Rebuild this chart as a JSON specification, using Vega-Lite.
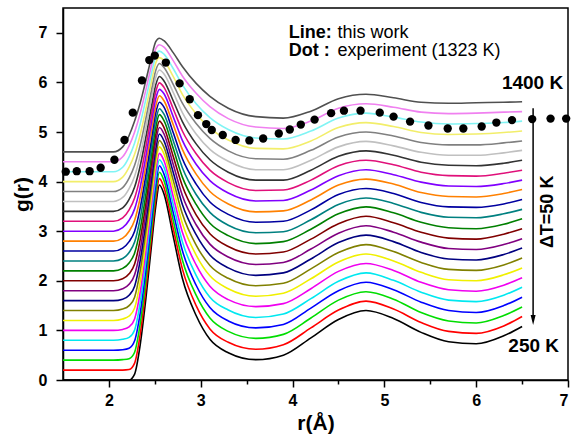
{
  "$schema": "https://vega.github.io/schema/vega-lite/v6.json",
  "width": 505,
  "height": 372,
  "autosize": "none",
  "padding": {"left": 63, "top": 8, "right": 5, "bottom": 63},
  "config": {
    "font": "Liberation Sans",
    "view": {"stroke": "#000", "strokeWidth": 1.5},
    "axis": {
      "grid": false,
      "domainColor": "#000", "domainWidth": 1.5,
      "tickColor": "#000", "tickWidth": 1.5,
      "labelFont": "Liberation Sans", "labelFontWeight": "bold", "labelFontSize": 16, "labelColor": "#000",
      "titleFont": "Liberation Sans", "titleFontWeight": "bold", "titleFontSize": 21, "titleColor": "#000"
    }
  },
  "datasets": {
    "sim": [
      {"T":250,"r":1.5,"g":0},{"T":250,"r":2.05,"g":0},{"T":250,"r":2.15,"g":0},{"T":250,"r":2.22,"g":0},{"T":250,"r":2.28,"g":0.12},{"T":250,"r":2.34,"g":0.70},{"T":250,"r":2.4,"g":1.60},{"T":250,"r":2.46,"g":2.65},{"T":250,"r":2.51,"g":3.50},{"T":250,"r":2.55,"g":3.93},{"T":250,"r":2.6,"g":3.75},{"T":250,"r":2.7,"g":2.90},{"T":250,"r":2.8,"g":2.05},{"T":250,"r":2.95,"g":1.30},{"T":250,"r":3.1,"g":0.82},{"T":250,"r":3.3,"g":0.55},{"T":250,"r":3.6,"g":0.41},{"T":250,"r":3.9,"g":0.50},{"T":250,"r":4.2,"g":0.85},{"T":250,"r":4.5,"g":1.22},{"T":250,"r":4.8,"g":1.40},{"T":250,"r":5.1,"g":1.24},{"T":250,"r":5.4,"g":0.96},{"T":250,"r":5.7,"g":0.77},{"T":250,"r":6.0,"g":0.73},{"T":250,"r":6.3,"g":0.89},{"T":250,"r":6.5,"g":1.08},
      {"T":300,"r":1.5,"g":0.2},{"T":300,"r":2.05,"g":0.2},{"T":300,"r":2.15,"g":0.20},{"T":300,"r":2.22,"g":0.21},{"T":300,"r":2.28,"g":0.34},{"T":300,"r":2.34,"g":0.91},{"T":300,"r":2.4,"g":1.79},{"T":300,"r":2.46,"g":2.82},{"T":300,"r":2.51,"g":3.64},{"T":300,"r":2.55,"g":4.06},{"T":300,"r":2.6,"g":3.88},{"T":300,"r":2.7,"g":3.06},{"T":300,"r":2.8,"g":2.24},{"T":300,"r":2.95,"g":1.50},{"T":300,"r":3.1,"g":1.03},{"T":300,"r":3.3,"g":0.76},{"T":300,"r":3.6,"g":0.62},{"T":300,"r":3.9,"g":0.71},{"T":300,"r":4.2,"g":1.05},{"T":300,"r":4.5,"g":1.41},{"T":300,"r":4.8,"g":1.59},{"T":300,"r":5.1,"g":1.43},{"T":300,"r":5.4,"g":1.16},{"T":300,"r":5.7,"g":0.98},{"T":300,"r":6.0,"g":0.94},{"T":300,"r":6.3,"g":1.09},{"T":300,"r":6.5,"g":1.28},
      {"T":350,"r":1.5,"g":0.4},{"T":350,"r":2.05,"g":0.4},{"T":350,"r":2.15,"g":0.41},{"T":350,"r":2.22,"g":0.43},{"T":350,"r":2.28,"g":0.56},{"T":350,"r":2.34,"g":1.12},{"T":350,"r":2.4,"g":1.98},{"T":350,"r":2.46,"g":2.98},{"T":350,"r":2.51,"g":3.79},{"T":350,"r":2.55,"g":4.19},{"T":350,"r":2.6,"g":4.02},{"T":350,"r":2.7,"g":3.22},{"T":350,"r":2.8,"g":2.42},{"T":350,"r":2.95,"g":1.71},{"T":350,"r":3.1,"g":1.25},{"T":350,"r":3.3,"g":0.98},{"T":350,"r":3.6,"g":0.84},{"T":350,"r":3.9,"g":0.92},{"T":350,"r":4.2,"g":1.25},{"T":350,"r":4.5,"g":1.61},{"T":350,"r":4.8,"g":1.78},{"T":350,"r":5.1,"g":1.63},{"T":350,"r":5.4,"g":1.36},{"T":350,"r":5.7,"g":1.19},{"T":350,"r":6.0,"g":1.15},{"T":350,"r":6.3,"g":1.30},{"T":350,"r":6.5,"g":1.47},
      {"T":400,"r":1.5,"g":0.6},{"T":400,"r":2.05,"g":0.6},{"T":400,"r":2.15,"g":0.61},{"T":400,"r":2.22,"g":0.64},{"T":400,"r":2.28,"g":0.79},{"T":400,"r":2.34,"g":1.34},{"T":400,"r":2.4,"g":2.18},{"T":400,"r":2.46,"g":3.15},{"T":400,"r":2.51,"g":3.93},{"T":400,"r":2.55,"g":4.32},{"T":400,"r":2.6,"g":4.15},{"T":400,"r":2.7,"g":3.38},{"T":400,"r":2.8,"g":2.61},{"T":400,"r":2.95,"g":1.91},{"T":400,"r":3.1,"g":1.46},{"T":400,"r":3.3,"g":1.19},{"T":400,"r":3.6,"g":1.05},{"T":400,"r":3.9,"g":1.12},{"T":400,"r":4.2,"g":1.45},{"T":400,"r":4.5,"g":1.80},{"T":400,"r":4.8,"g":1.97},{"T":400,"r":5.1,"g":1.82},{"T":400,"r":5.4,"g":1.57},{"T":400,"r":5.7,"g":1.40},{"T":400,"r":6.0,"g":1.36},{"T":400,"r":6.3,"g":1.50},{"T":400,"r":6.5,"g":1.67},
      {"T":450,"r":1.5,"g":0.8},{"T":450,"r":2.05,"g":0.8},{"T":450,"r":2.15,"g":0.82},{"T":450,"r":2.22,"g":0.86},{"T":450,"r":2.28,"g":1.01},{"T":450,"r":2.34,"g":1.55},{"T":450,"r":2.4,"g":2.37},{"T":450,"r":2.46,"g":3.32},{"T":450,"r":2.51,"g":4.08},{"T":450,"r":2.55,"g":4.44},{"T":450,"r":2.6,"g":4.29},{"T":450,"r":2.7,"g":3.54},{"T":450,"r":2.8,"g":2.79},{"T":450,"r":2.95,"g":2.11},{"T":450,"r":3.1,"g":1.67},{"T":450,"r":3.3,"g":1.41},{"T":450,"r":3.6,"g":1.26},{"T":450,"r":3.9,"g":1.33},{"T":450,"r":4.2,"g":1.64},{"T":450,"r":4.5,"g":1.99},{"T":450,"r":4.8,"g":2.16},{"T":450,"r":5.1,"g":2.01},{"T":450,"r":5.4,"g":1.77},{"T":450,"r":5.7,"g":1.61},{"T":450,"r":6.0,"g":1.58},{"T":450,"r":6.3,"g":1.71},{"T":450,"r":6.5,"g":1.87},
      {"T":500,"r":1.5,"g":1.0},{"T":500,"r":2.05,"g":1.0},{"T":500,"r":2.15,"g":1.02},{"T":500,"r":2.22,"g":1.07},{"T":500,"r":2.28,"g":1.23},{"T":500,"r":2.34,"g":1.76},{"T":500,"r":2.4,"g":2.56},{"T":500,"r":2.46,"g":3.48},{"T":500,"r":2.51,"g":4.22},{"T":500,"r":2.55,"g":4.57},{"T":500,"r":2.6,"g":4.42},{"T":500,"r":2.7,"g":3.70},{"T":500,"r":2.8,"g":2.98},{"T":500,"r":2.95,"g":2.32},{"T":500,"r":3.1,"g":1.89},{"T":500,"r":3.3,"g":1.62},{"T":500,"r":3.6,"g":1.48},{"T":500,"r":3.9,"g":1.54},{"T":500,"r":4.2,"g":1.84},{"T":500,"r":4.5,"g":2.19},{"T":500,"r":4.8,"g":2.35},{"T":500,"r":5.1,"g":2.21},{"T":500,"r":5.4,"g":1.97},{"T":500,"r":5.7,"g":1.82},{"T":500,"r":6.0,"g":1.79},{"T":500,"r":6.3,"g":1.91},{"T":500,"r":6.5,"g":2.06},
      {"T":550,"r":1.5,"g":1.2},{"T":550,"r":2.05,"g":1.2},{"T":550,"r":2.15,"g":1.23},{"T":550,"r":2.22,"g":1.29},{"T":550,"r":2.28,"g":1.45},{"T":550,"r":2.34,"g":1.97},{"T":550,"r":2.4,"g":2.75},{"T":550,"r":2.46,"g":3.65},{"T":550,"r":2.51,"g":4.37},{"T":550,"r":2.55,"g":4.70},{"T":550,"r":2.6,"g":4.56},{"T":550,"r":2.7,"g":3.87},{"T":550,"r":2.8,"g":3.16},{"T":550,"r":2.95,"g":2.52},{"T":550,"r":3.1,"g":2.10},{"T":550,"r":3.3,"g":1.84},{"T":550,"r":3.6,"g":1.69},{"T":550,"r":3.9,"g":1.75},{"T":550,"r":4.2,"g":2.04},{"T":550,"r":4.5,"g":2.38},{"T":550,"r":4.8,"g":2.54},{"T":550,"r":5.1,"g":2.40},{"T":550,"r":5.4,"g":2.17},{"T":550,"r":5.7,"g":2.02},{"T":550,"r":6.0,"g":2.00},{"T":550,"r":6.3,"g":2.12},{"T":550,"r":6.5,"g":2.26},
      {"T":600,"r":1.5,"g":1.4},{"T":600,"r":2.05,"g":1.4},{"T":600,"r":2.15,"g":1.43},{"T":600,"r":2.22,"g":1.50},{"T":600,"r":2.28,"g":1.67},{"T":600,"r":2.34,"g":2.19},{"T":600,"r":2.4,"g":2.95},{"T":600,"r":2.46,"g":3.82},{"T":600,"r":2.51,"g":4.51},{"T":600,"r":2.55,"g":4.83},{"T":600,"r":2.6,"g":4.69},{"T":600,"r":2.7,"g":4.03},{"T":600,"r":2.8,"g":3.35},{"T":600,"r":2.95,"g":2.72},{"T":600,"r":3.1,"g":2.31},{"T":600,"r":3.3,"g":2.05},{"T":600,"r":3.6,"g":1.90},{"T":600,"r":3.9,"g":1.95},{"T":600,"r":4.2,"g":2.24},{"T":600,"r":4.5,"g":2.57},{"T":600,"r":4.8,"g":2.73},{"T":600,"r":5.1,"g":2.59},{"T":600,"r":5.4,"g":2.37},{"T":600,"r":5.7,"g":2.23},{"T":600,"r":6.0,"g":2.21},{"T":600,"r":6.3,"g":2.32},{"T":600,"r":6.5,"g":2.46},
      {"T":650,"r":1.5,"g":1.6},{"T":650,"r":2.05,"g":1.6},{"T":650,"r":2.15,"g":1.63},{"T":650,"r":2.22,"g":1.71},{"T":650,"r":2.28,"g":1.89},{"T":650,"r":2.34,"g":2.40},{"T":650,"r":2.4,"g":3.14},{"T":650,"r":2.46,"g":3.98},{"T":650,"r":2.51,"g":4.65},{"T":650,"r":2.55,"g":4.96},{"T":650,"r":2.6,"g":4.82},{"T":650,"r":2.7,"g":4.19},{"T":650,"r":2.8,"g":3.54},{"T":650,"r":2.95,"g":2.93},{"T":650,"r":3.1,"g":2.52},{"T":650,"r":3.3,"g":2.26},{"T":650,"r":3.6,"g":2.11},{"T":650,"r":3.9,"g":2.16},{"T":650,"r":4.2,"g":2.44},{"T":650,"r":4.5,"g":2.77},{"T":650,"r":4.8,"g":2.92},{"T":650,"r":5.1,"g":2.79},{"T":650,"r":5.4,"g":2.57},{"T":650,"r":5.7,"g":2.44},{"T":650,"r":6.0,"g":2.42},{"T":650,"r":6.3,"g":2.53},{"T":650,"r":6.5,"g":2.66},
      {"T":700,"r":1.5,"g":1.8},{"T":700,"r":2.05,"g":1.8},{"T":700,"r":2.15,"g":1.84},{"T":700,"r":2.22,"g":1.93},{"T":700,"r":2.28,"g":2.12},{"T":700,"r":2.34,"g":2.61},{"T":700,"r":2.4,"g":3.33},{"T":700,"r":2.46,"g":4.15},{"T":700,"r":2.51,"g":4.80},{"T":700,"r":2.55,"g":5.09},{"T":700,"r":2.6,"g":4.96},{"T":700,"r":2.7,"g":4.35},{"T":700,"r":2.8,"g":3.72},{"T":700,"r":2.95,"g":3.13},{"T":700,"r":3.1,"g":2.74},{"T":700,"r":3.3,"g":2.48},{"T":700,"r":3.6,"g":2.33},{"T":700,"r":3.9,"g":2.37},{"T":700,"r":4.2,"g":2.64},{"T":700,"r":4.5,"g":2.96},{"T":700,"r":4.8,"g":3.11},{"T":700,"r":5.1,"g":2.98},{"T":700,"r":5.4,"g":2.78},{"T":700,"r":5.7,"g":2.65},{"T":700,"r":6.0,"g":2.63},{"T":700,"r":6.3,"g":2.73},{"T":700,"r":6.5,"g":2.85},
      {"T":750,"r":1.5,"g":2.0},{"T":750,"r":2.05,"g":2.0},{"T":750,"r":2.15,"g":2.04},{"T":750,"r":2.22,"g":2.14},{"T":750,"r":2.28,"g":2.34},{"T":750,"r":2.34,"g":2.82},{"T":750,"r":2.4,"g":3.52},{"T":750,"r":2.46,"g":4.32},{"T":750,"r":2.51,"g":4.94},{"T":750,"r":2.55,"g":5.22},{"T":750,"r":2.6,"g":5.09},{"T":750,"r":2.7,"g":4.51},{"T":750,"r":2.8,"g":3.91},{"T":750,"r":2.95,"g":3.33},{"T":750,"r":3.1,"g":2.95},{"T":750,"r":3.3,"g":2.69},{"T":750,"r":3.6,"g":2.54},{"T":750,"r":3.9,"g":2.58},{"T":750,"r":4.2,"g":2.84},{"T":750,"r":4.5,"g":3.15},{"T":750,"r":4.8,"g":3.30},{"T":750,"r":5.1,"g":3.17},{"T":750,"r":5.4,"g":2.98},{"T":750,"r":5.7,"g":2.86},{"T":750,"r":6.0,"g":2.84},{"T":750,"r":6.3,"g":2.94},{"T":750,"r":6.5,"g":3.05},
      {"T":800,"r":1.5,"g":2.2},{"T":800,"r":2.05,"g":2.2},{"T":800,"r":2.15,"g":2.25},{"T":800,"r":2.22,"g":2.36},{"T":800,"r":2.28,"g":2.56},{"T":800,"r":2.34,"g":3.03},{"T":800,"r":2.4,"g":3.71},{"T":800,"r":2.46,"g":4.48},{"T":800,"r":2.51,"g":5.09},{"T":800,"r":2.55,"g":5.35},{"T":800,"r":2.6,"g":5.23},{"T":800,"r":2.7,"g":4.67},{"T":800,"r":2.8,"g":4.09},{"T":800,"r":2.95,"g":3.54},{"T":800,"r":3.1,"g":3.16},{"T":800,"r":3.3,"g":2.91},{"T":800,"r":3.6,"g":2.75},{"T":800,"r":3.9,"g":2.79},{"T":800,"r":4.2,"g":3.04},{"T":800,"r":4.5,"g":3.35},{"T":800,"r":4.8,"g":3.49},{"T":800,"r":5.1,"g":3.37},{"T":800,"r":5.4,"g":3.18},{"T":800,"r":5.7,"g":3.07},{"T":800,"r":6.0,"g":3.05},{"T":800,"r":6.3,"g":3.14},{"T":800,"r":6.5,"g":3.25},
      {"T":850,"r":1.5,"g":2.4},{"T":850,"r":2.05,"g":2.4},{"T":850,"r":2.15,"g":2.45},{"T":850,"r":2.22,"g":2.57},{"T":850,"r":2.28,"g":2.78},{"T":850,"r":2.34,"g":3.25},{"T":850,"r":2.4,"g":3.91},{"T":850,"r":2.46,"g":4.65},{"T":850,"r":2.51,"g":5.23},{"T":850,"r":2.55,"g":5.47},{"T":850,"r":2.6,"g":5.36},{"T":850,"r":2.7,"g":4.83},{"T":850,"r":2.8,"g":4.28},{"T":850,"r":2.95,"g":3.74},{"T":850,"r":3.1,"g":3.38},{"T":850,"r":3.3,"g":3.12},{"T":850,"r":3.6,"g":2.97},{"T":850,"r":3.9,"g":2.99},{"T":850,"r":4.2,"g":3.23},{"T":850,"r":4.5,"g":3.54},{"T":850,"r":4.8,"g":3.67},{"T":850,"r":5.1,"g":3.56},{"T":850,"r":5.4,"g":3.38},{"T":850,"r":5.7,"g":3.28},{"T":850,"r":6.0,"g":3.27},{"T":850,"r":6.3,"g":3.35},{"T":850,"r":6.5,"g":3.44},
      {"T":900,"r":1.5,"g":2.6},{"T":900,"r":2.05,"g":2.6},{"T":900,"r":2.15,"g":2.66},{"T":900,"r":2.22,"g":2.79},{"T":900,"r":2.28,"g":3.00},{"T":900,"r":2.34,"g":3.46},{"T":900,"r":2.4,"g":4.10},{"T":900,"r":2.46,"g":4.81},{"T":900,"r":2.51,"g":5.38},{"T":900,"r":2.55,"g":5.60},{"T":900,"r":2.6,"g":5.50},{"T":900,"r":2.7,"g":4.99},{"T":900,"r":2.8,"g":4.46},{"T":900,"r":2.95,"g":3.95},{"T":900,"r":3.1,"g":3.59},{"T":900,"r":3.3,"g":3.34},{"T":900,"r":3.6,"g":3.18},{"T":900,"r":3.9,"g":3.20},{"T":900,"r":4.2,"g":3.43},{"T":900,"r":4.5,"g":3.74},{"T":900,"r":4.8,"g":3.86},{"T":900,"r":5.1,"g":3.76},{"T":900,"r":5.4,"g":3.58},{"T":900,"r":5.7,"g":3.49},{"T":900,"r":6.0,"g":3.48},{"T":900,"r":6.3,"g":3.55},{"T":900,"r":6.5,"g":3.64},
      {"T":950,"r":1.5,"g":2.8},{"T":950,"r":2.05,"g":2.8},{"T":950,"r":2.15,"g":2.86},{"T":950,"r":2.22,"g":3.00},{"T":950,"r":2.28,"g":3.22},{"T":950,"r":2.34,"g":3.67},{"T":950,"r":2.4,"g":4.29},{"T":950,"r":2.46,"g":4.98},{"T":950,"r":2.51,"g":5.52},{"T":950,"r":2.55,"g":5.73},{"T":950,"r":2.6,"g":5.63},{"T":950,"r":2.7,"g":5.15},{"T":950,"r":2.8,"g":4.65},{"T":950,"r":2.95,"g":4.15},{"T":950,"r":3.1,"g":3.80},{"T":950,"r":3.3,"g":3.55},{"T":950,"r":3.6,"g":3.39},{"T":950,"r":3.9,"g":3.41},{"T":950,"r":4.2,"g":3.63},{"T":950,"r":4.5,"g":3.93},{"T":950,"r":4.8,"g":4.05},{"T":950,"r":5.1,"g":3.95},{"T":950,"r":5.4,"g":3.78},{"T":950,"r":5.7,"g":3.70},{"T":950,"r":6.0,"g":3.69},{"T":950,"r":6.3,"g":3.76},{"T":950,"r":6.5,"g":3.84},
      {"T":1000,"r":1.5,"g":3.0},{"T":1000,"r":2.05,"g":3.0},{"T":1000,"r":2.15,"g":3.07},{"T":1000,"r":2.22,"g":3.22},{"T":1000,"r":2.28,"g":3.45},{"T":1000,"r":2.34,"g":3.88},{"T":1000,"r":2.4,"g":4.48},{"T":1000,"r":2.46,"g":5.15},{"T":1000,"r":2.51,"g":5.67},{"T":1000,"r":2.55,"g":5.86},{"T":1000,"r":2.6,"g":5.77},{"T":1000,"r":2.7,"g":5.31},{"T":1000,"r":2.8,"g":4.83},{"T":1000,"r":2.95,"g":4.35},{"T":1000,"r":3.1,"g":4.02},{"T":1000,"r":3.3,"g":3.77},{"T":1000,"r":3.6,"g":3.61},{"T":1000,"r":3.9,"g":3.62},{"T":1000,"r":4.2,"g":3.83},{"T":1000,"r":4.5,"g":4.12},{"T":1000,"r":4.8,"g":4.24},{"T":1000,"r":5.1,"g":4.14},{"T":1000,"r":5.4,"g":3.99},{"T":1000,"r":5.7,"g":3.91},{"T":1000,"r":6.0,"g":3.90},{"T":1000,"r":6.3,"g":3.96},{"T":1000,"r":6.5,"g":4.03},
      {"T":1050,"r":1.5,"g":3.2},{"T":1050,"r":2.05,"g":3.2},{"T":1050,"r":2.15,"g":3.27},{"T":1050,"r":2.22,"g":3.43},{"T":1050,"r":2.28,"g":3.67},{"T":1050,"r":2.34,"g":4.09},{"T":1050,"r":2.4,"g":4.67},{"T":1050,"r":2.46,"g":5.31},{"T":1050,"r":2.51,"g":5.81},{"T":1050,"r":2.55,"g":5.99},{"T":1050,"r":2.6,"g":5.90},{"T":1050,"r":2.7,"g":5.47},{"T":1050,"r":2.8,"g":5.02},{"T":1050,"r":2.95,"g":4.56},{"T":1050,"r":3.1,"g":4.23},{"T":1050,"r":3.3,"g":3.98},{"T":1050,"r":3.6,"g":3.82},{"T":1050,"r":3.9,"g":3.83},{"T":1050,"r":4.2,"g":4.03},{"T":1050,"r":4.5,"g":4.32},{"T":1050,"r":4.8,"g":4.43},{"T":1050,"r":5.1,"g":4.34},{"T":1050,"r":5.4,"g":4.19},{"T":1050,"r":5.7,"g":4.12},{"T":1050,"r":6.0,"g":4.11},{"T":1050,"r":6.3,"g":4.17},{"T":1050,"r":6.5,"g":4.23},
      {"T":1100,"r":1.5,"g":3.4},{"T":1100,"r":2.05,"g":3.4},{"T":1100,"r":2.15,"g":3.47},{"T":1100,"r":2.22,"g":3.64},{"T":1100,"r":2.28,"g":3.89},{"T":1100,"r":2.34,"g":4.31},{"T":1100,"r":2.4,"g":4.87},{"T":1100,"r":2.46,"g":5.48},{"T":1100,"r":2.51,"g":5.95},{"T":1100,"r":2.55,"g":6.12},{"T":1100,"r":2.6,"g":6.03},{"T":1100,"r":2.7,"g":5.63},{"T":1100,"r":2.8,"g":5.21},{"T":1100,"r":2.95,"g":4.76},{"T":1100,"r":3.1,"g":4.44},{"T":1100,"r":3.3,"g":4.19},{"T":1100,"r":3.6,"g":4.03},{"T":1100,"r":3.9,"g":4.03},{"T":1100,"r":4.2,"g":4.23},{"T":1100,"r":4.5,"g":4.51},{"T":1100,"r":4.8,"g":4.62},{"T":1100,"r":5.1,"g":4.53},{"T":1100,"r":5.4,"g":4.39},{"T":1100,"r":5.7,"g":4.33},{"T":1100,"r":6.0,"g":4.32},{"T":1100,"r":6.3,"g":4.37},{"T":1100,"r":6.5,"g":4.43},
      {"T":1150,"r":1.5,"g":3.6},{"T":1150,"r":2.05,"g":3.6},{"T":1150,"r":2.15,"g":3.68},{"T":1150,"r":2.22,"g":3.86},{"T":1150,"r":2.28,"g":4.11},{"T":1150,"r":2.34,"g":4.52},{"T":1150,"r":2.4,"g":5.06},{"T":1150,"r":2.46,"g":5.65},{"T":1150,"r":2.51,"g":6.10},{"T":1150,"r":2.55,"g":6.25},{"T":1150,"r":2.6,"g":6.17},{"T":1150,"r":2.7,"g":5.80},{"T":1150,"r":2.8,"g":5.39},{"T":1150,"r":2.95,"g":4.96},{"T":1150,"r":3.1,"g":4.65},{"T":1150,"r":3.3,"g":4.41},{"T":1150,"r":3.6,"g":4.24},{"T":1150,"r":3.9,"g":4.24},{"T":1150,"r":4.2,"g":4.43},{"T":1150,"r":4.5,"g":4.70},{"T":1150,"r":4.8,"g":4.81},{"T":1150,"r":5.1,"g":4.72},{"T":1150,"r":5.4,"g":4.59},{"T":1150,"r":5.7,"g":4.53},{"T":1150,"r":6.0,"g":4.53},{"T":1150,"r":6.3,"g":4.58},{"T":1150,"r":6.5,"g":4.63},
      {"T":1200,"r":1.5,"g":3.8},{"T":1200,"r":2.05,"g":3.8},{"T":1200,"r":2.15,"g":3.88},{"T":1200,"r":2.22,"g":4.07},{"T":1200,"r":2.28,"g":4.33},{"T":1200,"r":2.34,"g":4.73},{"T":1200,"r":2.4,"g":5.25},{"T":1200,"r":2.46,"g":5.81},{"T":1200,"r":2.51,"g":6.24},{"T":1200,"r":2.55,"g":6.38},{"T":1200,"r":2.6,"g":6.30},{"T":1200,"r":2.7,"g":5.96},{"T":1200,"r":2.8,"g":5.58},{"T":1200,"r":2.95,"g":5.17},{"T":1200,"r":3.1,"g":4.87},{"T":1200,"r":3.3,"g":4.62},{"T":1200,"r":3.6,"g":4.46},{"T":1200,"r":3.9,"g":4.45},{"T":1200,"r":4.2,"g":4.63},{"T":1200,"r":4.5,"g":4.90},{"T":1200,"r":4.8,"g":5.00},{"T":1200,"r":5.1,"g":4.92},{"T":1200,"r":5.4,"g":4.79},{"T":1200,"r":5.7,"g":4.74},{"T":1200,"r":6.0,"g":4.74},{"T":1200,"r":6.3,"g":4.78},{"T":1200,"r":6.5,"g":4.82},
      {"T":1250,"r":1.5,"g":4.0},{"T":1250,"r":2.05,"g":4.0},{"T":1250,"r":2.15,"g":4.09},{"T":1250,"r":2.22,"g":4.29},{"T":1250,"r":2.28,"g":4.55},{"T":1250,"r":2.34,"g":4.94},{"T":1250,"r":2.4,"g":5.44},{"T":1250,"r":2.46,"g":5.98},{"T":1250,"r":2.51,"g":6.39},{"T":1250,"r":2.55,"g":6.50},{"T":1250,"r":2.6,"g":6.44},{"T":1250,"r":2.7,"g":6.12},{"T":1250,"r":2.8,"g":5.76},{"T":1250,"r":2.95,"g":5.37},{"T":1250,"r":3.1,"g":5.08},{"T":1250,"r":3.3,"g":4.84},{"T":1250,"r":3.6,"g":4.67},{"T":1250,"r":3.9,"g":4.66},{"T":1250,"r":4.2,"g":4.82},{"T":1250,"r":4.5,"g":5.09},{"T":1250,"r":4.8,"g":5.19},{"T":1250,"r":5.1,"g":5.11},{"T":1250,"r":5.4,"g":4.99},{"T":1250,"r":5.7,"g":4.95},{"T":1250,"r":6.0,"g":4.96},{"T":1250,"r":6.3,"g":4.99},{"T":1250,"r":6.5,"g":5.02},
      {"T":1300,"r":1.5,"g":4.2},{"T":1300,"r":2.05,"g":4.2},{"T":1300,"r":2.15,"g":4.29},{"T":1300,"r":2.22,"g":4.50},{"T":1300,"r":2.28,"g":4.78},{"T":1300,"r":2.34,"g":5.16},{"T":1300,"r":2.4,"g":5.64},{"T":1300,"r":2.46,"g":6.15},{"T":1300,"r":2.51,"g":6.53},{"T":1300,"r":2.55,"g":6.63},{"T":1300,"r":2.6,"g":6.57},{"T":1300,"r":2.7,"g":6.28},{"T":1300,"r":2.8,"g":5.95},{"T":1300,"r":2.95,"g":5.57},{"T":1300,"r":3.1,"g":5.29},{"T":1300,"r":3.3,"g":5.05},{"T":1300,"r":3.6,"g":4.88},{"T":1300,"r":3.9,"g":4.86},{"T":1300,"r":4.2,"g":5.02},{"T":1300,"r":4.5,"g":5.28},{"T":1300,"r":4.8,"g":5.38},{"T":1300,"r":5.1,"g":5.30},{"T":1300,"r":5.4,"g":5.20},{"T":1300,"r":5.7,"g":5.16},{"T":1300,"r":6.0,"g":5.17},{"T":1300,"r":6.3,"g":5.19},{"T":1300,"r":6.5,"g":5.22},
      {"T":1350,"r":1.5,"g":4.4},{"T":1350,"r":2.05,"g":4.4},{"T":1350,"r":2.15,"g":4.50},{"T":1350,"r":2.22,"g":4.72},{"T":1350,"r":2.28,"g":5.00},{"T":1350,"r":2.34,"g":5.37},{"T":1350,"r":2.4,"g":5.83},{"T":1350,"r":2.46,"g":6.31},{"T":1350,"r":2.51,"g":6.68},{"T":1350,"r":2.55,"g":6.76},{"T":1350,"r":2.6,"g":6.71},{"T":1350,"r":2.7,"g":6.44},{"T":1350,"r":2.8,"g":6.13},{"T":1350,"r":2.95,"g":5.78},{"T":1350,"r":3.1,"g":5.51},{"T":1350,"r":3.3,"g":5.27},{"T":1350,"r":3.6,"g":5.10},{"T":1350,"r":3.9,"g":5.07},{"T":1350,"r":4.2,"g":5.22},{"T":1350,"r":4.5,"g":5.48},{"T":1350,"r":4.8,"g":5.57},{"T":1350,"r":5.1,"g":5.50},{"T":1350,"r":5.4,"g":5.40},{"T":1350,"r":5.7,"g":5.37},{"T":1350,"r":6.0,"g":5.38},{"T":1350,"r":6.3,"g":5.40},{"T":1350,"r":6.5,"g":5.41},
      {"T":1400,"r":1.5,"g":4.6},{"T":1400,"r":2.05,"g":4.6},{"T":1400,"r":2.15,"g":4.70},{"T":1400,"r":2.22,"g":4.93},{"T":1400,"r":2.28,"g":5.22},{"T":1400,"r":2.34,"g":5.58},{"T":1400,"r":2.4,"g":6.02},{"T":1400,"r":2.46,"g":6.48},{"T":1400,"r":2.51,"g":6.82},{"T":1400,"r":2.55,"g":6.89},{"T":1400,"r":2.6,"g":6.84},{"T":1400,"r":2.7,"g":6.60},{"T":1400,"r":2.8,"g":6.32},{"T":1400,"r":2.95,"g":5.98},{"T":1400,"r":3.1,"g":5.72},{"T":1400,"r":3.3,"g":5.48},{"T":1400,"r":3.6,"g":5.31},{"T":1400,"r":3.9,"g":5.28},{"T":1400,"r":4.2,"g":5.42},{"T":1400,"r":4.5,"g":5.67},{"T":1400,"r":4.8,"g":5.76},{"T":1400,"r":5.1,"g":5.69},{"T":1400,"r":5.4,"g":5.60},{"T":1400,"r":5.7,"g":5.58},{"T":1400,"r":6.0,"g":5.59},{"T":1400,"r":6.3,"g":5.60},{"T":1400,"r":6.5,"g":5.61}
    ],
    "exp": [
      {"r":1.53,"g":4.20},{"r":1.65,"g":4.21},{"r":1.79,"g":4.21},{"r":1.91,"g":4.28},{"r":2.06,"g":4.44},{"r":2.17,"g":4.84},{"r":2.26,"g":5.39},{"r":2.36,"g":6.04},{"r":2.44,"g":6.45},{"r":2.50,"g":6.54},{"r":2.62,"g":6.40},{"r":2.77,"g":5.98},{"r":2.88,"g":5.66},{"r":2.97,"g":5.34},{"r":3.06,"g":5.16},{"r":3.12,"g":5.04},{"r":3.24,"g":4.94},{"r":3.38,"g":4.84},{"r":3.53,"g":4.83},{"r":3.68,"g":4.87},{"r":3.85,"g":4.97},{"r":3.97,"g":5.05},{"r":4.09,"g":5.15},{"r":4.24,"g":5.25},{"r":4.42,"g":5.38},{"r":4.56,"g":5.43},{"r":4.74,"g":5.43},{"r":4.95,"g":5.39},{"r":5.10,"g":5.31},{"r":5.28,"g":5.21},{"r":5.48,"g":5.13},{"r":5.69,"g":5.07},{"r":5.86,"g":5.07},{"r":6.06,"g":5.11},{"r":6.22,"g":5.19},{"r":6.39,"g":5.24},{"r":6.61,"g":5.26},{"r":6.81,"g":5.27},{"r":6.98,"g":5.27}
    ]
  },
  "layer": [
    {
      "data": {"name": "sim"},
      "mark": {"type": "line", "interpolate": "monotone", "strokeWidth": 1.6},
      "encoding": {
        "x": {
          "field": "r", "type": "quantitative",
          "scale": {"domain": [1.5, 7], "nice": false, "zero": false},
          "axis": {
            "title": "r(Å)",
            "values": [2, 2.5, 3, 3.5, 4, 4.5, 5, 5.5, 6, 6.5, 7],
            "labelExpr": "datum.value % 1 !== 0 ? '' : format(datum.value, 'd')",
            "tickSize": {"condition": {"test": "datum.value % 1 !== 0", "value": 4}, "value": 7},
            "labelPadding": 5,
            "titlePadding": 4
          }
        },
        "y": {
          "field": "g", "type": "quantitative",
          "scale": {"domain": [0, 7.5], "nice": false},
          "axis": {
            "title": "g(r)",
            "values": [0, 0.5, 1, 1.5, 2, 2.5, 3, 3.5, 4, 4.5, 5, 5.5, 6, 6.5, 7],
            "labelExpr": "datum.value % 1 !== 0 ? '' : format(datum.value, 'd')",
            "tickSize": {"condition": {"test": "datum.value % 1 !== 0", "value": 4}, "value": 7},
            "labelPadding": 9,
            "titlePadding": 6
          }
        },
        "color": {
          "field": "T", "type": "ordinal", "legend": null,
          "scale": {
            "domain": [250, 300, 350, 400, 450, 500, 550, 600, 650, 700, 750, 800, 850, 900, 950, 1000, 1050, 1100, 1150, 1200, 1250, 1300, 1350, 1400],
            "range": ["#000000", "#FF0000", "#00DD00", "#0000FF", "#00E8F0", "#F000F0", "#F0F000", "#808000", "#000080", "#800080", "#800000", "#008000", "#008080", "#0000A0", "#FF8000", "#8000FF", "#E0107A", "#333333", "#C0C0C0", "#808080", "#F2EE6A", "#80F4F4", "#F080F0", "#505050"]
          }
        }
      }
    },
    {
      "data": {"name": "exp"},
      "mark": {"type": "circle", "size": 70, "color": "#000", "opacity": 1},
      "encoding": {
        "x": {"field": "r", "type": "quantitative"},
        "y": {"field": "g", "type": "quantitative"}
      }
    },
    {
      "data": {"values": [{}]},
      "layer": [
        {"mark": {"type": "text", "text": "Line:", "font": "Liberation Sans", "fontWeight": "bold", "fontSize": 18, "align": "left", "baseline": "middle", "color": "#000"},
         "encoding": {"x": {"datum": 3.96}, "y": {"datum": 7.0}}},
        {"mark": {"type": "text", "text": "this work", "font": "Liberation Sans", "fontSize": 18, "align": "left", "baseline": "middle", "color": "#000"},
         "encoding": {"x": {"datum": 4.49}, "y": {"datum": 7.0}}},
        {"mark": {"type": "text", "text": "Dot :", "font": "Liberation Sans", "fontWeight": "bold", "fontSize": 18, "align": "left", "baseline": "middle", "color": "#000"},
         "encoding": {"x": {"datum": 3.96}, "y": {"datum": 6.63}}},
        {"mark": {"type": "text", "text": "experiment (1323 K)", "font": "Liberation Sans", "fontSize": 18, "align": "left", "baseline": "middle", "color": "#000"},
         "encoding": {"x": {"datum": 4.49}, "y": {"datum": 6.63}}},
        {"mark": {"type": "text", "text": "1400 K", "font": "Liberation Sans", "fontWeight": "bold", "fontSize": 19, "align": "left", "baseline": "middle", "color": "#000"},
         "encoding": {"x": {"datum": 6.28}, "y": {"datum": 5.99}}},
        {"mark": {"type": "text", "text": "250 K", "font": "Liberation Sans", "fontWeight": "bold", "fontSize": 19, "align": "left", "baseline": "middle", "color": "#000"},
         "encoding": {"x": {"datum": 6.35}, "y": {"datum": 0.69}}},
        {"mark": {"type": "text", "text": "ΔT=50 K", "font": "Liberation Sans", "fontWeight": "bold", "fontSize": 18, "angle": 270, "align": "center", "baseline": "middle", "color": "#000"},
         "encoding": {"x": {"datum": 6.78}, "y": {"datum": 3.39}}},
        {"mark": {"type": "rule", "strokeWidth": 1.5, "color": "#000"},
         "encoding": {"x": {"datum": 6.62}, "y": {"datum": 5.48}, "y2": {"datum": 1.3}}},
        {"mark": {"type": "point", "shape": "M-0.5,-1L0.5,-1L0,1Z", "filled": true, "size": 100, "color": "#000", "opacity": 1},
         "encoding": {"x": {"datum": 6.62}, "y": {"datum": 1.21}}}
      ]
    }
  ]
}
